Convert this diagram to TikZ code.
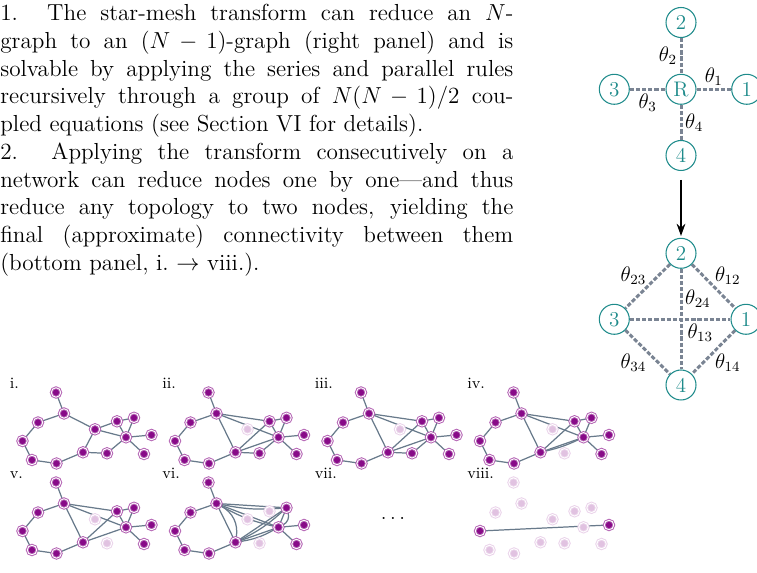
\RequirePackage{fix-cm}
\documentclass[tikz,border=0pt]{standalone}
\usepackage{fontspec}
\usepackage{tikz}
\usetikzlibrary{arrows.meta,backgrounds}

\definecolor{gcore}{HTML}{880A88}
\definecolor{gline}{HTML}{687A8B}
\definecolor{tealc}{HTML}{1E8B8B}
\definecolor{meshc}{HTML}{7A8493}

\tikzset{
  gnode/.style={circle,inner sep=0pt,minimum size=5.4pt,fill=gcore,draw=gcore!65!white,
                line width=0.55pt,double=white,double distance=0.5pt},
  gfade/.style={fill=gcore!25!white,draw=gcore!18!white},
  gkeep/.style={fill=gcore,draw=gcore!65!white},
  gedge/.style={draw=gline,line width=0.7pt},
  mesh/.style={draw=meshc,line width=1.7pt,dash pattern=on 2.4pt off 1.1pt},
  panel viii/.style={gfade},
  viii-c/.style={gkeep}, viii-l/.style={gkeep},
  ii-h/.style={gfade}, iii-h/.style={gfade},
  iv-h/.style={gfade}, iv-g/.style={gfade},
  v-h/.style={gfade}, v-g/.style={gfade},
  vi-h/.style={gfade}, vi-g/.style={gfade}, vi-i/.style={gfade}
}

\begin{document}
\begin{tikzpicture}[x=0.02cm,y=-0.02cm]
\useasboundingbox (0,0) rectangle (757,573);

\node[anchor=north west,inner sep=0pt,text width=292pt,align=justify,
      font=\fontsize{13.2}{15.8}\selectfont] (txt) at (0,4)
  {\noindent 1. The star-mesh transform can reduce an $N$-\linebreak
   graph to an $(N-1)$-graph (right panel) and is\linebreak
   solvable by applying the series and parallel rules\linebreak
   recursively through a group of $N(N-1)/2$ cou-\linebreak
   pled equations (see Section VI for details).\par
   \noindent 2. Applying the transform consecutively on a\linebreak
   network can reduce nodes one by one---and thus\linebreak
   reduce any topology to two nodes, yielding the\linebreak
   final (approximate) connectivity between them\linebreak
   (bottom panel, i.\ $\to$ viii.).};

\begin{scope}[every node/.style={circle,draw=tealc,line width=0.6pt,fill=white,text=tealc,
              minimum size=0.6cm,inner sep=0pt,font=\fontsize{12}{14}\selectfont}]
    \node (s2) at (681,22.5) {2};
    \node (sr) at (681,89.3) {R};
    \node (s3) at (614.3,89.3) {3};
    \node (s1) at (746.7,89.3) {1};
    \node (s4) at (681,155.5) {4};
    \node (m2) at (681,253.3) {2};
    \node (m3) at (614.3,319.3) {3};
    \node (m1) at (746,319.3) {1};
    \node (m4) at (681,385) {4};
\end{scope}

\begin{scope}[on background layer,every node/.style={font=\fontsize{12}{14}\selectfont,inner sep=1.5pt}]
    \draw[mesh] (s2) -- node[left] {$\theta_2$} (sr);
    \draw[mesh] (sr) -- node[above] {$\theta_1$} (s1);
    \draw[mesh] (s3) -- node[below] {$\theta_3$} (sr);
    \draw[mesh] (sr) -- node[right] {$\theta_4$} (s4);
    \draw[mesh] (m2) -- node[above left,inner sep=0pt] {$\theta_{23}$} (m3);
    \draw[mesh] (m2) -- node[above right,inner sep=0pt] {$\theta_{12}$} (m1);
    \draw[mesh] (m2) -- node[pos=0.3,right] {$\theta_{24}$} (m4);
    \draw[mesh] (m3) -- node[pos=0.7,below] {$\theta_{13}$} (m1);
    \draw[mesh] (m3) -- node[below left,inner sep=0pt] {$\theta_{34}$} (m4);
    \draw[mesh] (m1) -- node[below right,inner sep=0pt] {$\theta_{14}$} (m4);
\end{scope}
\draw[-{Stealth[length=7pt,width=5pt]},line width=0.8pt,shorten <=5pt,shorten >=1pt] (s4) -- (m2);

\foreach \p/\dx/\dy in {i/0/0,ii/152.5/0,iii/305/0,iv/457.5/0,v/0/90,vi/152.5/90,viii/457.5/90}
  \foreach \n/\x/\y in {t/56/392.5,a/64/413.5,b/38/422.5,c/22.5/441,d/32/460,e/56.5/463.5,
                        f/83/452.3,g/107/453.3,h/95/429.3,i/117/421.3,j/134/417.8,
                        k/126/437.3,l/151.5/435,m/144/454}
    \node[gnode,panel \p/.try,\p-\n/.try] (\p-\n) at (\x+\dx,\y+\dy) {};

\foreach \p/\dx/\dy in {i/0/0,ii/152.5/0,iii/305/0,iv/457.5/0,v/0/90,vi/152.5/90,vii/305/90,viii/457.5/90}
  \node[anchor=base west,inner sep=0pt,font=\fontsize{9}{10}\selectfont] (lab-\p) at (9.5+\dx,389+\dy) {\p.};
\node[font=\fontsize{12}{14}\selectfont] (skip) at (393,518) {$\ldots$};

\begin{scope}[on background layer]
    \foreach \p in {i,ii,iii,iv,v,vi}
      \foreach \u/\w in {t/a,a/b,b/c,c/d,d/e,e/f,j/k,k/l,k/m}
        \draw[gedge] (\p-\u) -- (\p-\w);
    \foreach \u/\w in {f/g,f/h,a/h,h/i,h/k,i/j,i/k,g/k}
      \draw[gedge] (i-\u) -- (i-\w);
    \foreach \p in {ii,iii}
      \foreach \u/\w in {f/g,g/k,a/f,a/i,a/k,f/i,f/k,i/j,i/k}
        \draw[gedge] (\p-\u) -- (\p-\w);
    \foreach \p in {iv,v}
      \foreach \u/\w in {a/f,a/i,a/k,f/i,f/k,i/j,i/k}
        \draw[gedge] (\p-\u) -- (\p-\w);
    \draw[gedge] (iv-f) to[bend right=6] (iv-k);
    \foreach \u/\w in {a/f,a/j,a/k,f/j,f/k}
      \draw[gedge] (vi-\u) -- (vi-\w);
    \draw[gedge] (vi-a) to[bend left=35] (vi-f);
    \draw[gedge] (vi-a) to[bend right=8] (vi-j);
    \draw[gedge] (vi-a) to[bend right=8] (vi-k);
    \draw[gedge] (vi-f) to[bend right=8] (vi-j);
    \draw[gedge] (vi-f) to[bend right=10] (vi-k);
    \draw[gedge] (vi-j) to[bend left=40] (vi-k);
    \draw[gedge] (viii-c) -- (viii-l);
\end{scope}
\end{tikzpicture}
\end{document}
